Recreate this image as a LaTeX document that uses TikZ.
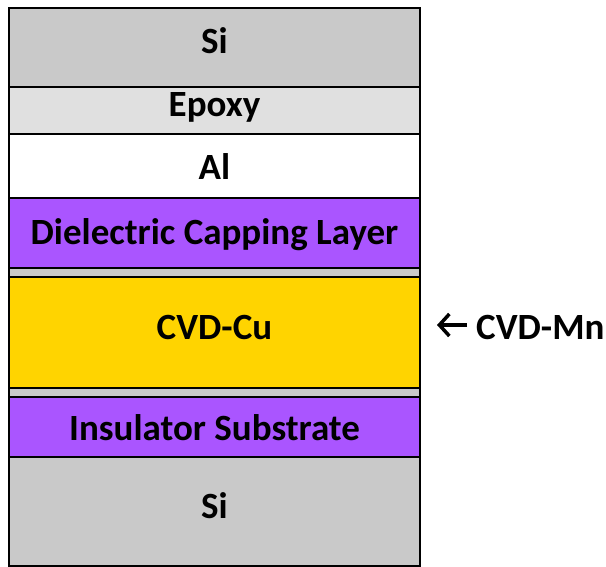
\documentclass[tikz,border=0pt]{standalone}
\usepackage{fontspec}
\setmainfont{Carlito}
\usetikzlibrary{arrows.meta}

\begin{document}
\begin{tikzpicture}[x=1pt,y=-1pt,font=\fontsize{37}{42}\selectfont\bfseries]

% =========================
% Color Definitions
% =========================
\colorlet{colSi}{black!21}
\colorlet{colEpoxy}{black!12}
\colorlet{colAl}{white}
\definecolor{colDiel}{RGB}{170,85,255}
\definecolor{colCu}{RGB}{255,212,0}
\colorlet{colMn}{black!21}

\useasboundingbox (0,0) rectangle (606,567);

% =========================
% Stack Geometry
% =========================
\def\XL{9}      % left edge of the stack
\def\XR{420}    % right edge of the stack
\def\CX{214.5}  % centre line for the labels

\tikzset{
    layer/.style={draw=black, line width=2pt},
    layertext/.style={anchor=base, inner sep=0pt},
    mnarrow/.style={-{Straight Barb[length=10pt,width=22pt,line width=3.5pt]}, line width=3.5pt}
}

% =========================
% Layers (top to bottom)
% =========================
\filldraw[layer, fill=colSi]    (\XL,8)   rectangle (\XR,87);
\filldraw[layer, fill=colEpoxy] (\XL,87)  rectangle (\XR,134);
\filldraw[layer, fill=colAl]    (\XL,134) rectangle (\XR,198);
\filldraw[layer, fill=colDiel]  (\XL,198) rectangle (\XR,268);
\filldraw[layer, fill=colMn]    (\XL,268) rectangle (\XR,277);
\filldraw[layer, fill=colCu]    (\XL,277) rectangle (\XR,388);
\filldraw[layer, fill=colMn]    (\XL,388) rectangle (\XR,397);
\filldraw[layer, fill=colDiel]  (\XL,397) rectangle (\XR,457);
\filldraw[layer, fill=colSi]    (\XL,457) rectangle (\XR,566);

% =========================
% Layer Labels
% =========================
\node[layertext] (siTop)  at (\CX,54)  {Si};
\node[layertext] (epoxy)  at (\CX,117) {Epoxy};
\node[layertext] (al)     at (\CX,180) {Al};
\node[layertext] (diel)   at (\CX,245) {Dielectric Capping Layer};
\node[layertext] (cu)     at (\CX,340) {CVD-Cu};
\node[layertext] (ins)    at (\CX,440) {Insulator Substrate};
\node[layertext] (siBot)  at (\CX,518) {Si};

% =========================
% Mn annotation
% =========================
\node[layertext, anchor=base west] (mn) at (476,340) {CVD-Mn};
\coordinate (mnTip) at (437,325);
\draw[mnarrow, shorten <=9pt] (mn.west |- mnTip) -- (mnTip);

\end{tikzpicture}
\end{document}
